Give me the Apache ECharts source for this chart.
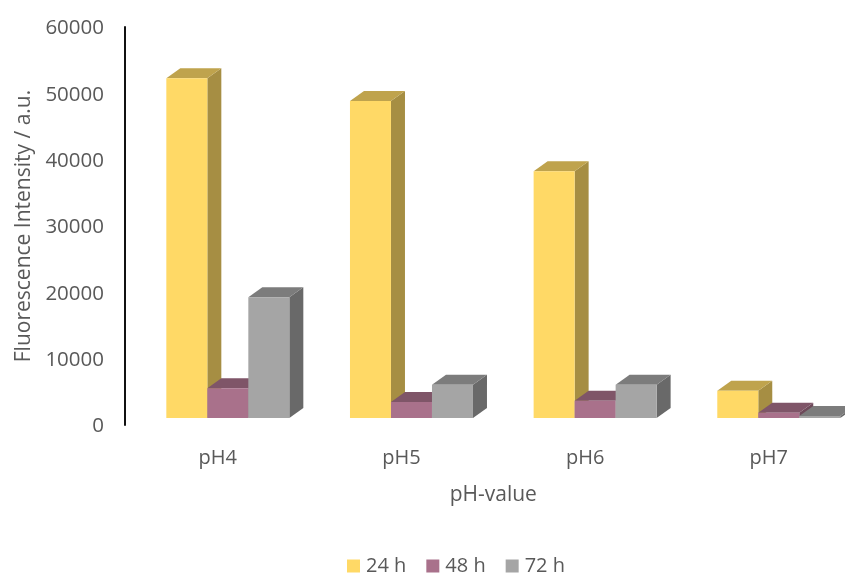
<!DOCTYPE html>
<html>
<head>
<meta charset="utf-8">
<style>html,body{margin:0;padding:0;background:#fff}#chart{width:845px;height:576px}</style>
<script src="https://cdn.jsdelivr.net/npm/echarts@6/dist/echarts.min.js"></script>
</head>
<body>
<div id="chart"></div>
<script>
// Fluorescence intensity by pH value after 24, 48 and 72 hours
const categories = ['pH4', 'pH5', 'pH6', 'pH7'];
const hours24 = [51200, 47800, 37200, 4100];
const hours48 = [4500, 2400, 2600, 800];
const hours72 = [18200, 5000, 5000, 300];
const seriesNames = ['24 h', '48 h', '72 h'];

// Front, top and side face colours of each bar family
const faces = [
  { front: '#FFD966', top: '#BFA34D', side: '#A68E43' },
  { front: '#A9718B', top: '#7F5568', side: '#6E4A5A' },
  { front: '#A5A5A5', top: '#7C7C7C', side: '#696969' }
];

const BAR_W = 41;
const DEPTH_X = 14;
const DEPTH_Y = 10;
const FLOOR_LIFT = 7;
const GROUP_SHIFT = -51.5;

// Draws one box with an oblique top and side, from the value scale of the axis
function boxRenderer(seriesIndex) {
  const c = faces[seriesIndex];
  return function (params, api) {
    const top = api.coord([api.value(0), api.value(1)]);
    const base = api.coord([api.value(0), 0]);
    const x0 = top[0] + GROUP_SHIFT + seriesIndex * BAR_W;
    const x1 = x0 + BAR_W;
    const yt = top[1] - FLOOR_LIFT;
    const yb = base[1] - FLOOR_LIFT;
    return {
      type: 'group',
      children: [
        {
          type: 'polygon',
          shape: { points: [[x1, yb], [x1 + DEPTH_X, yb - DEPTH_Y], [x1 + DEPTH_X, yt - DEPTH_Y], [x1, yt]] },
          style: { fill: c.side }
        },
        {
          type: 'polygon',
          shape: { points: [[x0, yt], [x0 + DEPTH_X, yt - DEPTH_Y], [x1 + DEPTH_X, yt - DEPTH_Y], [x1, yt]] },
          style: { fill: c.top }
        },
        {
          type: 'rect',
          shape: { x: x0, y: yt, width: BAR_W, height: yb - yt },
          style: { fill: c.front }
        }
      ]
    };
  };
}

function boxSeries(name, values, seriesIndex) {
  return {
    name: name,
    type: 'custom',
    renderItem: boxRenderer(seriesIndex),
    itemStyle: { color: faces[seriesIndex].front },
    encode: { x: 0, y: 1 },
    data: values.map((v, i) => [i, v]),
    clip: false,
    silent: true
  };
}

const fontFamily = '"Open Sans", Lato, sans-serif';
const textGrey = '#595959';

const chart = echarts.init(document.getElementById('chart'), null, { renderer: 'canvas' });
chart.setOption({
  animation: false,
  backgroundColor: '#fff',
  grid: { left: 126, width: 734.6, top: 27, bottom: 151, containLabel: false, outerBoundsMode: 'none' },
  legend: {
    data: seriesNames,
    left: 347,
    top: 556,
    icon: 'rect',
    itemWidth: 13,
    itemHeight: 13,
    itemGap: 20,
    padding: 0,
    selectedMode: false,
    textStyle: { color: textGrey, fontFamily, fontSize: 20, padding: [2, 0, 0, 1] }
  },
  xAxis: {
    type: 'category',
    data: categories,
    name: 'pH-value',
    nameLocation: 'middle',
    nameGap: 60,
    nameTextStyle: { color: textGrey, fontFamily, fontSize: 21 },
    axisLine: { show: false },
    axisTick: { show: false },
    axisLabel: { color: textGrey, fontFamily, fontSize: 20, margin: 23 }
  },
  yAxis: {
    type: 'value',
    min: 0,
    max: 60000,
    interval: 10000,
    offset: 1,
    name: 'Fluorescence Intensity / a.u.',
    nameLocation: 'middle',
    nameGap: 90,
    nameTextStyle: { color: textGrey, fontFamily, fontSize: 21 },
    axisLine: { show: true, lineStyle: { color: '#111', width: 2 } },
    axisTick: { show: false },
    splitLine: { show: false },
    axisLabel: {
      color: textGrey,
      fontFamily,
      fontSize: 20.5,
      margin: 21,
      verticalAlign: 'top',
      lineHeight: 3,
      formatter: (v) => String(v)
    }
  },
  series: [
    boxSeries(seriesNames[0], hours24, 0),
    boxSeries(seriesNames[1], hours48, 1),
    boxSeries(seriesNames[2], hours72, 2)
  ]
});
</script>
</body>
</html>
